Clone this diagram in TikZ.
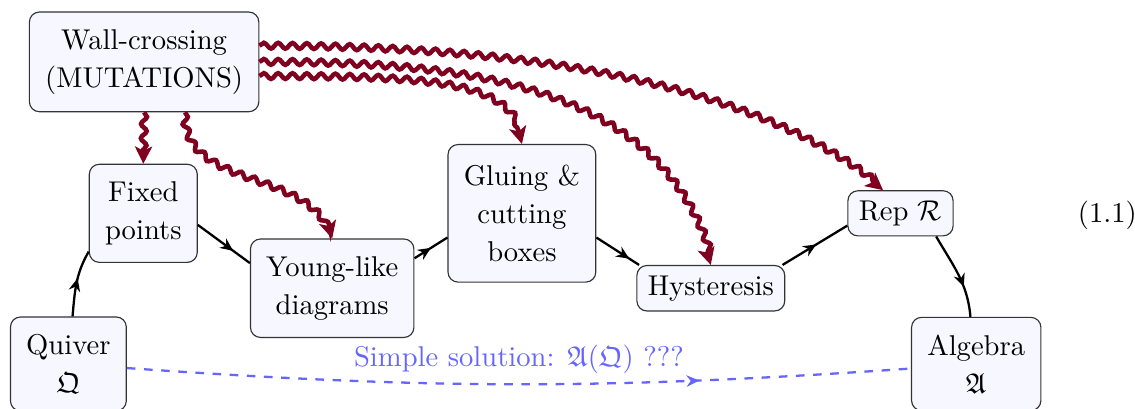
\documentclass[tikz,border=0pt]{standalone}
\usepackage{amsmath}
\usepackage{amssymb}
\usepackage{xcolor}
\usepackage{tikz}
\usetikzlibrary{arrows.meta,decorations.pathmorphing,decorations.markings}

\definecolor{wavered}{RGB}{128,0,32}

\begin{document}
\begin{tikzpicture}[>=Stealth, font=\fontsize{10pt}{13.4pt}\selectfont,
    box/.style={draw=black!80, fill=blue!3, rounded corners=3.5pt, align=center, inner xsep=5.5pt, inner ysep=6pt},
    smallbox/.style={box, inner xsep=3.8pt, inner ysep=3.5pt},
    flow/.style={thick, postaction={decorate}, decoration={markings, mark=at position #1 with {\arrow{Stealth[length=4.5pt,width=4pt]}}}},
    mutation/.style={draw=wavered, line width=1.6pt, decorate, decoration={snake, amplitude=1pt, segment length=5pt, post length=4pt}, -{Stealth[length=6pt,width=6pt,inset=1.5pt]}}]
            \useasboundingbox (0,0) rectangle (13.94,-5.02);

            % Boxes
            \node[box] (wall) at (1.77,-0.76) {Wall-crossing\\(MUTATIONS)};
            \node[box] (fixed) at (1.76,-2.62) {Fixed\\points};
            \node[box] (young) at (4.08,-3.54) {Young-like\\diagrams};
            \node[box, inner ysep=7pt] (gluing) at (6.41,-2.62) {Gluing \&\\cutting\\boxes};
            \node[smallbox] (hyst) at (8.73,-3.54) {Hysteresis};
            \node[smallbox] (rep) at (11.06,-2.62) {Rep $\mathcal{R}$};
            \node[box] (quiver) at (0.84,-4.47) {Quiver\\$\mathfrak{Q}$};
            \node[box] (algebra) at (11.99,-4.47) {Algebra\\$\mathfrak{A}$};

            % Equation number
            \node (eqno) at (13.6,-2.64) {(1.1)};

            % Chain from the quiver to the algebra
            \draw[flow=0.57] (quiver.85) to[out=85,in=-120] (fixed.215);
            \draw[flow=0.68] (fixed.-12) -- (young.163);
            \draw[flow=0.5] (young.20) -- (gluing.198);
            \draw[flow=0.77] (gluing.-18) -- (hyst.162);
            \draw[flow=0.52] (hyst.18) -- (rep.193);
            \draw[flow=0.65] (rep.-33) to[out=-60,in=95] (algebra.97);

            % Mutations acting on the steps
            \draw[mutation] (wall.south) -- (fixed.north);
            \draw[mutation] (wall.-51) to[out=-90,in=100] (young.north);
            \draw[mutation] (wall.-7) to[out=0,in=100,out looseness=1.7,in looseness=0.6] (gluing.north);
            \draw[mutation] (wall.east) to[out=0,in=105] (hyst.north);
            \draw[mutation] (wall.8) to[out=0,in=140,in looseness=0.7] (rep.127);

            % Direct route
            \draw[flow=0.73, blue!60, dashed] (quiver) to[bend right=4] node[above] {Simple solution: $\mathfrak{A}(\mathfrak{Q})$ ???} (algebra);

        \end{tikzpicture}
\end{document}
